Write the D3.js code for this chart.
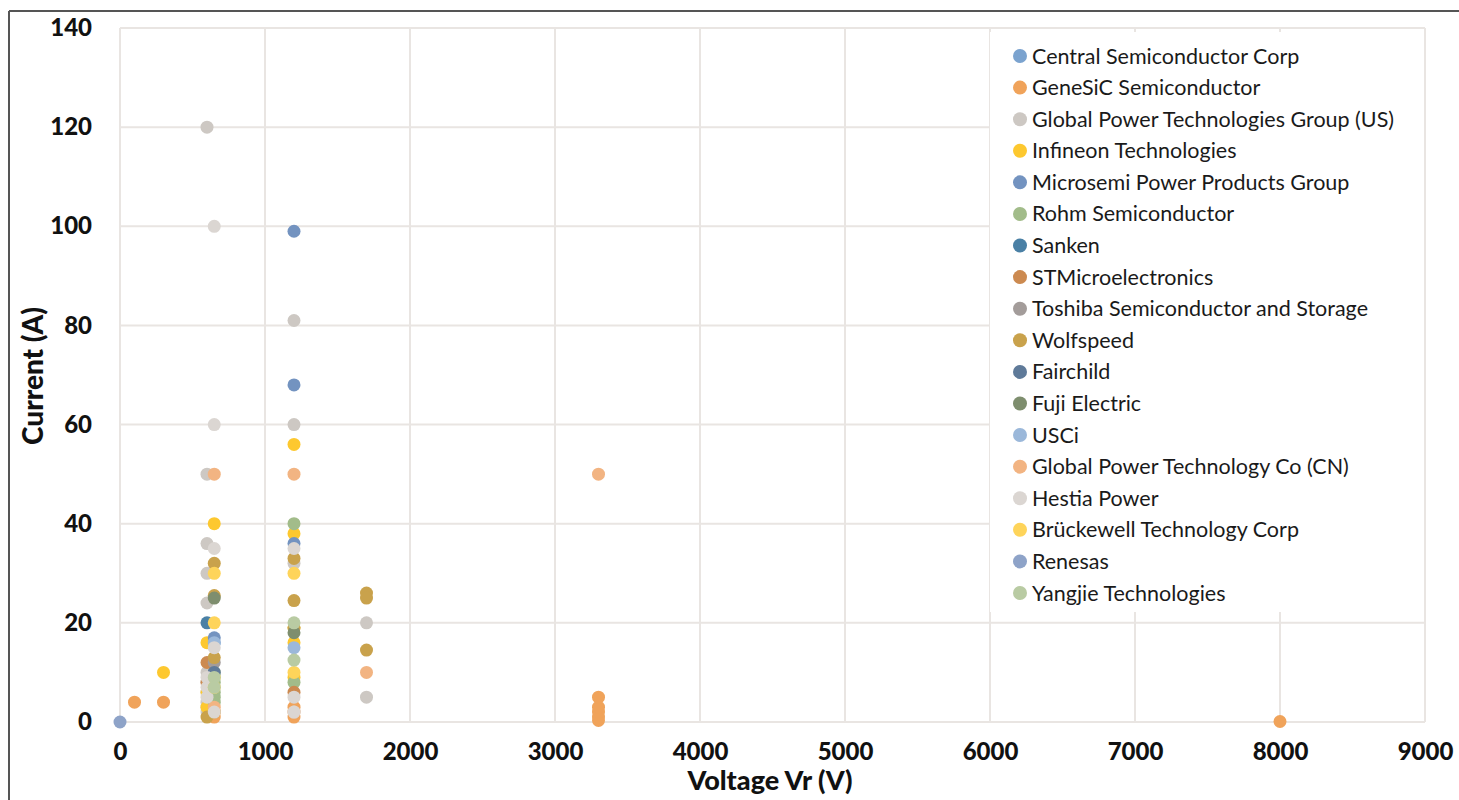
<!DOCTYPE html>
<html>
<head>
<meta charset="utf-8">
<script src="https://cdn.jsdelivr.net/npm/d3@7/dist/d3.min.js"></script>
<style>
  html, body { margin: 0; padding: 0; background: #fff; }
  svg { display: block; }
</style>
</head>
<body>
<svg id="chart" width="1459" height="800"></svg>
<script>
// ---- Data ----
const seriesNames = [
  "Central Semiconductor Corp",
  "GeneSiC Semiconductor",
  "Global Power Technologies Group (US)",
  "Infineon Technologies",
  "Microsemi Power Products Group",
  "Rohm Semiconductor",
  "Sanken",
  "STMicroelectronics",
  "Toshiba Semiconductor and Storage",
  "Wolfspeed",
  "Fairchild",
  "Fuji Electric",
  "USCi",
  "Global Power Technology Co (CN)",
  "Hestia Power",
  "Brückewell Technology Corp",
  "Renesas",
  "Yangjie Technologies"
];
const seriesColors = [
  "#7ba3cf", "#f0a35a", "#cdc8c3", "#fdc82f", "#7393c0", "#a2bc8a",
  "#4a80a5", "#cc8a50", "#a39c9a", "#c9a24c", "#5f7a99", "#7e8e6e",
  "#9bb8da", "#f2b482", "#dbd6d2", "#fed45a", "#8ea3c8", "#b9cba3"
];
// [Voltage Vr (V), Current (A)]
const central   = [[650, 16]];
const genesic   = [[100, 4], [300, 4], [650, 1], [650, 2], [1200, 1], [1200, 3], [3300, 0.3], [3300, 1], [3300, 2], [3300, 3], [3300, 5], [8000, 0.1]];
const gptgUS    = [[600, 120], [1200, 81], [600, 50], [600, 36], [600, 30], [600, 24], [1200, 60], [1200, 32], [1700, 20], [1700, 5], [600, 10], [600, 8], [600, 6], [600, 4], [600, 3], [600, 2], [1200, 2]];
const infineon  = [[300, 10], [650, 40], [1200, 56], [1200, 38], [600, 16], [1200, 16], [600, 6], [600, 3], [650, 9], [1200, 9], [1200, 19]];
const microsemi = [[1200, 99], [1200, 68], [1200, 36], [650, 17]];
const rohm      = [[1200, 40], [1200, 8], [650, 10], [650, 8], [650, 6], [650, 4], [650, 5]];
const sanken    = [[600, 20]];
const stmicro   = [[600, 12], [1200, 6], [600, 8]];
const toshiba   = [[650, 12]];
const wolfspeed = [[650, 32], [650, 25.5], [650, 13], [1200, 33], [1200, 24.5], [1700, 26], [1700, 25], [1700, 14.5], [600, 1], [650, 2], [1200, 19]];
const fairchild = [[650, 10]];
const fuji      = [[650, 25], [1200, 18]];
const usci      = [[1200, 15], [650, 16]];
const gptCN     = [[650, 50], [1200, 50], [1700, 10], [3300, 50], [1200, 2], [650, 3]];
const hestia    = [[650, 100], [650, 60], [650, 35], [650, 15], [1200, 35], [1200, 5], [1200, 2], [600, 5], [600, 9], [600, 7], [650, 2]];
const bruckewell= [[650, 30], [650, 20], [1200, 30], [1200, 10], [650, 7]];
const renesas   = [[0, 0]];
const yangjie   = [[1200, 12.5], [650, 9], [650, 7], [1200, 20]];
const seriesData = [central, genesic, gptgUS, infineon, microsemi, rohm, sanken, stmicro, toshiba,
  wolfspeed, fairchild, fuji, usci, gptCN, hestia, bruckewell, renesas, yangjie];

const xTicks = [0, 1000, 2000, 3000, 4000, 5000, 6000, 7000, 8000, 9000];
const yTicks = [0, 20, 40, 60, 80, 100, 120, 140];
const xTitle = "Voltage Vr (V)";
const yTitle = "Current (A)";

// ---- Chart ----
const svg = d3.select("#chart");
const W = 1459, H = 800;
const x = d3.scaleLinear().domain([0, 9000]).range([120, 1425]);
const y = d3.scaleLinear().domain([0, 140]).range([722, 28]);
const font = "Lato, 'Open Sans', sans-serif";
const gridColor = "#e9e5e2";

// frame lines
svg.append("line").attr("x1", 9).attr("x2", W).attr("y1", 11).attr("y2", 11)
  .attr("stroke", "#555").attr("stroke-width", 2);
svg.append("line").attr("x1", 9).attr("x2", 9).attr("y1", 11).attr("y2", H)
  .attr("stroke", "#555").attr("stroke-width", 2);

// gridlines
const grid = svg.append("g");
grid.selectAll(".gx").data(xTicks).join("line")
  .attr("x1", d => x(d)).attr("x2", d => x(d))
  .attr("y1", y(140)).attr("y2", y(0))
  .attr("stroke", gridColor).attr("stroke-width", 2);
grid.selectAll(".gy").data(yTicks).join("line")
  .attr("x1", x(0)).attr("x2", x(9000))
  .attr("y1", d => y(d)).attr("y2", d => y(d))
  .attr("stroke", gridColor).attr("stroke-width", 2);

// axes (labels only)
const xAxis = svg.append("g").attr("transform", `translate(0,${y(0) + 18})`)
  .call(d3.axisBottom(x).tickValues(xTicks).tickSize(0).tickFormat(d3.format("d")));
xAxis.select(".domain").remove();
xAxis.selectAll("text").attr("font-family", font).attr("font-weight", 900)
  .attr("font-size", 24).attr("fill", "#111");

const yAxis = svg.append("g").attr("transform", `translate(${x(0) - 25},0)`)
  .call(d3.axisLeft(y).tickValues(yTicks).tickSize(0).tickFormat(d3.format("d")));
yAxis.select(".domain").remove();
yAxis.selectAll("text").attr("font-family", font).attr("font-weight", 900)
  .attr("font-size", 24).attr("fill", "#111");

svg.append("text").attr("x", 770).attr("y", 790).attr("text-anchor", "middle")
  .attr("font-family", font).attr("font-weight", 900).attr("font-size", 27)
  .attr("fill", "#111").text(xTitle);
svg.append("text").attr("transform", `translate(43,${376}) rotate(-90)`).attr("text-anchor", "middle")
  .attr("font-family", font).attr("font-weight", 900).attr("font-size", 28)
  .attr("fill", "#111").text(yTitle);

// points
const pts = svg.append("g");
seriesData.forEach((arr, i) => {
  pts.append("g").selectAll("circle").data(arr).join("circle")
    .attr("cx", d => x(d[0])).attr("cy", d => y(d[1])).attr("r", 6.5)
    .attr("fill", seriesColors[i]);
});

// legend
const lg = svg.append("g");
lg.append("rect").attr("x", 990).attr("y", 32).attr("width", 434).attr("height", 580).attr("fill", "#fff");
const lgY = d3.scaleLinear().domain([0, seriesNames.length - 1]).range([56, 593]);
const items = lg.selectAll("g.item").data(seriesNames).join("g")
  .attr("transform", (d, i) => `translate(1020,${lgY(i)})`);
items.append("circle").attr("r", 7).attr("fill", (d, i) => seriesColors[i]);
items.append("text").attr("x", 12).attr("dy", "0.35em")
  .attr("font-family", font).attr("font-size", 21.5).attr("fill", "#1a1a1a").text(d => d);
</script>
</body>
</html>
